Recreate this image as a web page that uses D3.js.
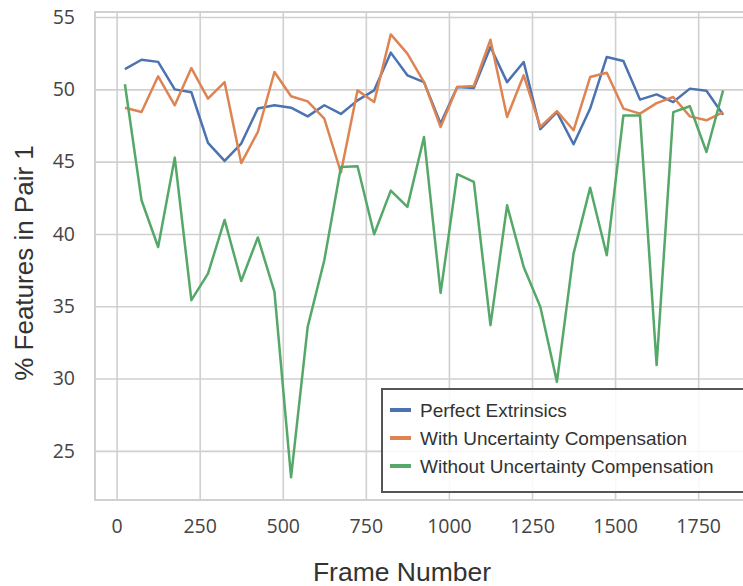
<!DOCTYPE html>
<html>
<head>
<meta charset="utf-8">
<script src="https://cdn.jsdelivr.net/npm/d3@7/dist/d3.min.js"></script>
<style>
  body { margin: 0; background: #fff; }
  svg { display: block; }
</style>
</head>
<body>
<div id="root"></div>
<script>
// frame numbers: 25, 75, ... 1825
const frames = [25, 75, 125, 175, 225, 275, 325, 375, 425, 475, 525, 575, 625, 675, 725, 775, 825, 875, 925,
  975, 1025, 1075, 1125, 1175, 1225, 1275, 1325, 1375, 1425, 1475, 1525, 1575, 1625, 1675, 1725, 1775, 1825];

const perfect = [51.4, 52.05, 51.9, 50.0, 49.8, 46.3, 45.05, 46.25, 48.67, 48.9, 48.73, 48.13, 48.9, 48.3, 49.24,
  49.93, 52.54, 50.97, 50.5, 47.63, 50.16, 50.1, 52.93, 50.5, 51.89, 47.25, 48.43, 46.2, 48.67, 52.24, 51.96,
  49.29, 49.65, 49.12, 50.05, 49.9, 48.25];

const withComp = [48.73, 48.43, 50.9, 48.9, 51.47, 49.36, 50.5, 44.9, 47.05, 51.2, 49.52, 49.17, 47.97, 44.25, 49.93,
  49.12, 53.8, 52.47, 50.5, 47.4, 50.16, 50.23, 53.43, 48.09, 50.97, 47.4, 48.5, 47.17, 50.85, 51.15, 48.67,
  48.32, 49.05, 49.47, 48.13, 47.86, 48.43];

const withoutComp = [50.35, 42.33, 39.1, 45.28, 35.42, 37.26, 40.97, 36.75, 39.76, 35.99, 23.17, 33.57, 38.18, 44.63,
  44.68, 39.98, 43.0, 41.87, 46.7, 35.92, 44.13, 43.6, 33.69, 41.98, 37.72, 34.96, 29.77, 38.64, 43.2, 38.53,
  48.2, 48.2, 30.93, 48.43, 48.83, 45.67, 49.93];

const seriesNames = ['Perfect Extrinsics', 'With Uncertainty Compensation', 'Without Uncertainty Compensation'];
const seriesColors = ['#4c72b0', '#dd8452', '#55a868'];
const xTicks = [0, 250, 500, 750, 1000, 1250, 1500, 1750];
const yTicks = [25, 30, 35, 40, 45, 50, 55];

const W = 743, H = 586;
const plot = { left: 95, right: 753, top: 12, bottom: 500 };

const x = d3.scaleLinear().domain([-65, 1915]).range([plot.left, plot.right]);
const y = d3.scaleLinear().domain([21.6, 55.35]).range([plot.bottom, plot.top]);

const svg = d3.select('#root').append('svg')
  .attr('width', W)
  .attr('height', H);

const gridColor = '#d0d0d0';

// grid
svg.append('g')
  .attr('transform', `translate(0,${plot.bottom})`)
  .call(d3.axisBottom(x).tickValues(xTicks).tickSize(-(plot.bottom - plot.top)).tickFormat(''))
  .call(g => g.select('.domain').remove())
  .call(g => g.selectAll('line').attr('stroke', gridColor).attr('stroke-width', 1.6));

svg.append('g')
  .attr('transform', `translate(${plot.left},0)`)
  .call(d3.axisLeft(y).tickValues(yTicks).tickSize(-(plot.right - plot.left)).tickFormat(''))
  .call(g => g.select('.domain').remove())
  .call(g => g.selectAll('line').attr('stroke', gridColor).attr('stroke-width', 1.6));

// frame
svg.append('rect')
  .attr('x', plot.left).attr('y', plot.top)
  .attr('width', plot.right - plot.left).attr('height', plot.bottom - plot.top)
  .attr('fill', 'none').attr('stroke', gridColor).attr('stroke-width', 2);

// tick labels
const xAxis = svg.append('g')
  .attr('transform', `translate(0,${plot.bottom})`)
  .call(d3.axisBottom(x).tickValues(xTicks).tickSize(0).tickPadding(0).tickFormat(d3.format('d')));
xAxis.select('.domain').remove();
xAxis.selectAll('text')
  .attr('y', 33).attr('dy', null)
  .attr('font-family', '"Open Sans", sans-serif').attr('font-size', 19.5).attr('fill', '#444');

const yAxis = svg.append('g')
  .attr('transform', `translate(${plot.left},0)`)
  .call(d3.axisLeft(y).tickValues(yTicks).tickSize(0).tickPadding(20));
yAxis.select('.domain').remove();
yAxis.selectAll('text')
  .attr('font-family', '"Open Sans", sans-serif').attr('font-size', 19.5).attr('fill', '#444');

// lines
const allSeries = [perfect, withComp, withoutComp];
const line = d3.line()
  .x((d, i) => x(frames[i]))
  .y(d => y(d));

svg.append('g')
  .selectAll('path')
  .data(allSeries)
  .enter()
  .append('path')
  .attr('d', d => line(d))
  .attr('fill', 'none')
  .attr('stroke', (d, i) => seriesColors[i])
  .attr('stroke-width', 2.5)
  .attr('stroke-linejoin', 'round');

// axis labels
svg.append('text')
  .attr('x', 402).attr('y', 581)
  .attr('text-anchor', 'middle')
  .attr('font-family', '"Liberation Sans", Arial, sans-serif')
  .attr('font-size', 26.5)
  .attr('fill', '#333')
  .text('Frame Number');

svg.append('text')
  .attr('transform', 'translate(33,263) rotate(-90)')
  .attr('text-anchor', 'middle')
  .attr('font-family', '"Liberation Sans", Arial, sans-serif')
  .attr('font-size', 26)
  .attr('fill', '#333')
  .text('% Features in Pair 1');

// legend
const legend = svg.append('g');
legend.append('rect')
  .attr('x', 382).attr('y', 389)
  .attr('width', 380).attr('height', 103)
  .attr('fill', '#fff').attr('fill-opacity', 0.85)
  .attr('stroke', '#555').attr('stroke-width', 2);

const rows = [410, 438, 466];
const items = legend.selectAll('g.item')
  .data(seriesNames)
  .enter()
  .append('g')
  .attr('class', 'item')
  .attr('transform', (d, i) => `translate(0,${rows[i]})`);

items.append('line')
  .attr('x1', 390).attr('x2', 411)
  .attr('stroke', (d, i) => seriesColors[i])
  .attr('stroke-width', 4);

items.append('text')
  .attr('x', 420).attr('y', 0).attr('dy', '0.36em')
  .attr('font-family', '"Liberation Sans", Arial, sans-serif')
  .attr('font-size', 19)
  .attr('fill', '#333')
  .text(d => d);
</script>
</body>
</html>
